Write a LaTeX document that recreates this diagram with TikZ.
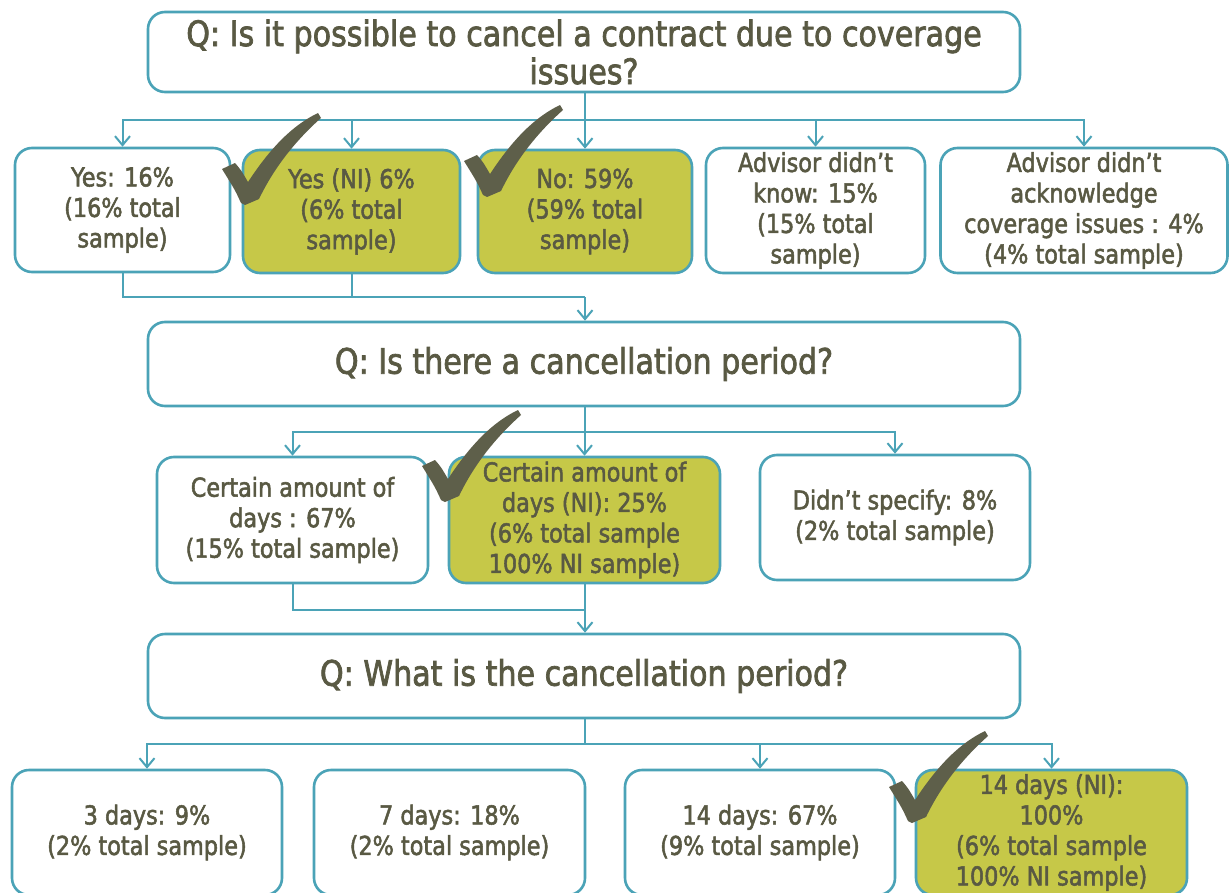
\documentclass[tikz,border=0pt]{standalone}
\usepackage{fontspec}
\setmainfont{DejaVu Sans}[FakeStretch=0.86,FakeBold=2]
\usetikzlibrary{arrows.meta}
\definecolor{teal}{HTML}{4BA3B7}
\definecolor{olive}{HTML}{C6C848}
\definecolor{txt}{HTML}{595943}
\definecolor{chk}{HTML}{5E5F4A}
\newcommand\mychk[1]{%
  \fill[chk,shift={#1}] (-21,-36) -- (-8,-42)
    .. controls (-2,-35) .. (5,-23)
    .. controls (28,-58) and (50,-80) .. (75,-92)
    -- (78,-87)
    .. controls (50,-62) and (30,-35) .. (16,-6)
    -- (2,0) -- (-2,-2) .. controls (-8,-15) .. (-21,-36) -- cycle;}
\begin{document}
\begin{tikzpicture}[x=1pt,y=-1pt,
  box/.style={draw=teal,line width=2.6pt,rounded corners=17pt,fill=white,
    inner sep=0pt,align=center,text=txt,
    font=\fontsize{26}{30.5}\selectfont},
  qbox/.style={box,font=\fontsize{35}{38}\selectfont},
  hi/.style={fill=olive},
  conn/.style={draw=teal,line width=2pt},
  arr/.style={conn,-{Straight Barb[length=9pt,width=15pt,line width=2pt]}}]
\clip (0,0) rectangle (1230,893);
\fill[white] (0,0) rectangle (1230,893);
% question boxes
\node[qbox,minimum width=872,minimum height=80] (q1) at (584,52)
  {Q: Is it possible to cancel a contract due to coverage\\issues?};
\node[qbox,minimum width=872,minimum height=84] (q2) at (584,364)
  {Q: Is there a cancellation period?};
\node[qbox,minimum width=872,minimum height=84] (q3) at (584,676)
  {Q: What is the cancellation period?};
% row 1
\node[box,minimum width=215,minimum height=124] (yes) at (122.5,210)
  {Yes: 16\%\\(16\% total\\sample)};
\node[box,hi,minimum width=217,minimum height=123] (yesni) at (351.5,211.5)
  {Yes (NI) 6\%\\(6\% total\\sample)};
\node[box,hi,minimum width=214,minimum height=123] (no) at (585,211.5)
  {No: 59\%\\(59\% total\\sample)};
\node[box,minimum width=219,minimum height=125] (know) at (815.5,210.5)
  {Advisor didn’t\\know: 15\%\\(15\% total\\sample)};
\node[box,minimum width=287,minimum height=125] (ack) at (1084,210.5)
  {Advisor didn’t\\acknowledge\\coverage issues : 4\%\\(4\% total sample)};
% row 2
\node[box,minimum width=271,minimum height=126] (cert) at (292.5,520)
  {Certain amount of\\days : 67\%\\(15\% total sample)};
\node[box,hi,minimum width=271,minimum height=126] (certni) at (584.5,520)
  {Certain amount of\\days (NI): 25\%\\(6\% total sample\\100\% NI sample)};
\node[box,minimum width=270,minimum height=125] (spec) at (895,517.5)
  {Didn’t specify: 8\%\\(2\% total sample)};
% row 3
\node[box,minimum width=270,minimum height=125] (d3) at (147,832.5)
  {3 days: 9\%\\(2\% total sample)};
\node[box,minimum width=271,minimum height=125] (d7) at (449.5,832.5)
  {7 days: 18\%\\(2\% total sample)};
\node[box,minimum width=270,minimum height=125] (d14) at (760,832.5)
  {14 days: 67\%\\(9\% total sample)};
\node[box,hi,minimum width=271,minimum height=125] (d14ni) at (1051.5,832.5)
  {14 days (NI):\\100\%\\(6\% total sample\\100\% NI sample)};
% junctions
\coordinate (h1) at (585,120);
\coordinate (m1) at (585,297);
\coordinate (h2) at (585,432);
\coordinate (m2) at (585,610);
\coordinate (h3) at (585,744);
% connectors level 1
\draw[conn] (q1.south -| h1) -- (h1);
\foreach \n in {yes,yesni,no,know,ack} \draw[arr] (h1) -| (\n.north);
\draw[conn] (yes.south) |- (m1);
\draw[conn] (yesni.south) -- (yesni.south |- m1);
\draw[arr] (m1) -- (q2.north -| m1);
% level 2
\draw[conn] (q2.south -| h2) -- (h2);
\foreach \n in {cert,certni,spec} \draw[arr] (h2) -| (\n.north);
\draw[conn] (cert.south) |- (m2);
\draw[conn] (certni.south) -- (certni.south |- m2);
\draw[arr] (m2) -- (q3.north -| m2);
% level 3
\draw[conn] (q3.south -| h3) -- (h3);
\foreach \n in {d3,d14,d14ni} \draw[arr] (h3) -| (\n.north);
\draw[conn] (h3) -- (h3 -| d3.north);
% check marks
\mychk{(243,205)}
\mychk{(485,197)}
\mychk{(443,502)}
\mychk{(910,823)}
\end{tikzpicture}
\end{document}
